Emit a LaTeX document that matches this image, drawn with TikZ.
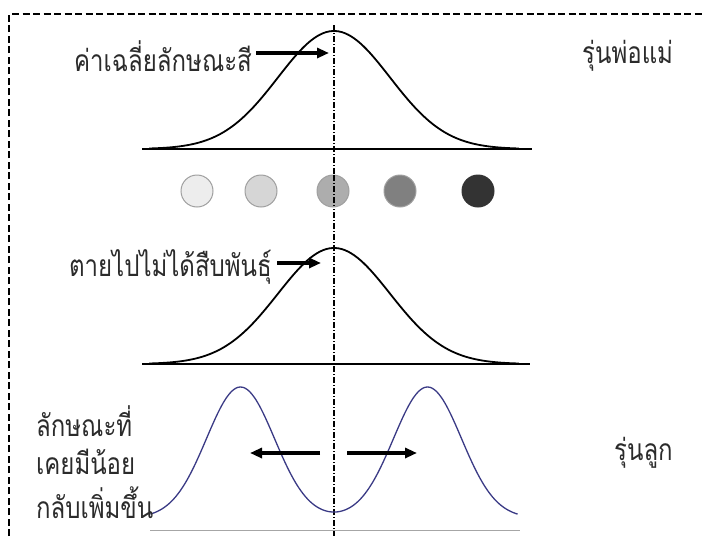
\documentclass[tikz,border=0pt]{standalone}
\usepackage{fontspec}
\newfontfamily\thaifont[Script=Thai, FakeStretch=0.8]{Loma}
\usetikzlibrary{arrows.meta}
\definecolor{navy}{HTML}{3A3A85}
\definecolor{txt}{HTML}{2B2B2B}
\tikzset{
  thai/.style={font=\thaifont\fontsize{30}{34}\selectfont, text=txt, inner sep=0pt},
  fatarrow/.style={line width=3.8pt, -{Triangle[length=12pt,width=10pt]}},
  bell/.style={line width=1.8pt, line join=round},
  axisline/.style={line width=1.8pt},
  dot/.style={circle, minimum size=32pt, inner sep=0pt, draw=gray!75, line width=1pt},
}
\begin{document}
\begin{tikzpicture}[x=1pt,y=-1pt]
\useasboundingbox (0,0) rectangle (704,536);
% border
\draw[line width=1.6pt, dash pattern=on 7pt off 3.5pt] (9,536) -- (9,14) -- (704,14);
% centre line
\draw[line width=1.4pt, dash pattern=on 6pt off 2pt on 1pt off 2pt] (334,25) -- (334,536);

% curve 1
\draw[axisline] (142,149) -- (532,149);
\draw[bell] plot[variable=\t, domain=-3.3:3.3, samples=120, smooth] ({334+56*\t},{149-118*exp(-\t*\t/2)});
% curve 2
\draw[axisline] (142,364) -- (530,364);
\draw[bell] plot[variable=\t, domain=-3.3:3.3, samples=120, smooth] ({334+56*\t},{364-116*exp(-\t*\t/2)});
% curve 3
\draw[line width=1pt, gray!70] (150,530) -- (520,530);
\draw[navy, line width=1.3pt] plot[variable=\t, domain=-5.4:5.4, samples=160, smooth]
  ({334+34*\t},{518-131*(exp(-(\t+2.75)*(\t+2.75)/2)+exp(-(\t-2.75)*(\t-2.75)/2))});

% dots
\node[dot, fill=black!7]  (c1) at (197,191) {};
\node[dot, fill=black!16] (c2) at (261,191) {};
\node[dot, fill=black!32] (c3) at (333,191) {};
\node[dot, fill=black!50] (c4) at (400,191) {};
\node[dot, fill=black!80, draw=black!80] (c5) at (478,191) {};
\draw[line width=1.4pt, dash pattern=on 6pt off 2pt on 1pt off 2pt] (334,175) -- (334,207);

% labels
\node[thai, anchor=east] (mean) at (252,56) {ค่าเฉลี่ยลักษณะสี};
\coordinate (meantip) at (329,53);
\draw[fatarrow] ([xshift=4pt]meantip -| mean.east) -- (meantip);

\node[thai, anchor=east] (dead) at (272,267) {ตายไปไม่ได้สืบพันธุ์};
\coordinate (deadtip) at (321,263);
\draw[fatarrow] ([xshift=5pt]deadtip -| dead.east) -- (deadtip);

\node[thai, anchor=west] (gen1) at (582,56) {รุ่นพ่อแม่};
\node[thai, anchor=west] (gen2) at (614,453) {รุ่นลูก};

\node[thai, anchor=west] (l1) at (36,421) {ลักษณะที่};
\node[thai, anchor=west] (l2) at (36,462) {เคยมีน้อย};
\node[thai, anchor=west] (l3) at (36,503) {กลับเพิ่มขึ้น};

\coordinate (la) at (320,453);
\coordinate (lb) at (250,453);
\coordinate (ra) at (347,453);
\coordinate (rb) at (417,453);
\draw[fatarrow] (la) -- (lb);
\draw[fatarrow] (ra) -- (rb);
\end{tikzpicture}
\end{document}
